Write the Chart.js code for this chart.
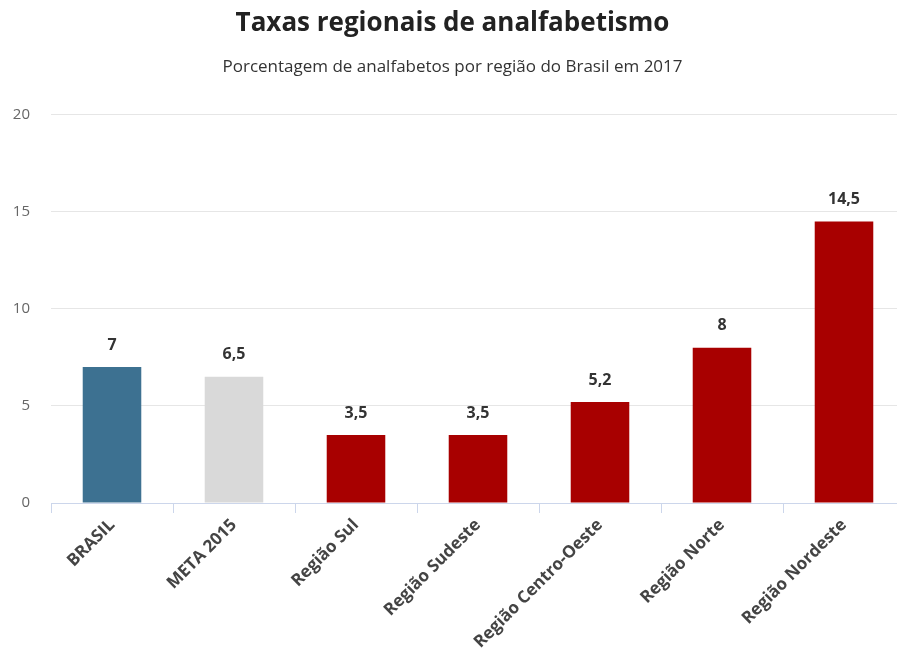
<!DOCTYPE html>
<html>
<head>
<meta charset="utf-8">
<script src="https://cdn.jsdelivr.net/npm/chart.js@4"></script>
<style>
  html, body { margin: 0; padding: 0; background: #fff; overflow: hidden; }
  #wrap { width: 905px; height: 651px; }
</style>
</head>
<body>
<div id="wrap"><canvas id="chart"></canvas></div>
<script>
// Data
const regions = ['BRASIL', 'META 2015', 'Região Sul', 'Região Sudeste', 'Região Centro-Oeste', 'Região Norte', 'Região Nordeste'];
const rates = [7, 6.5, 3.5, 3.5, 5.2, 8, 14.5];
const rateLabels = ['7', '6,5', '3,5', '3,5', '5,2', '8', '14,5'];
const barColors = ['#3d7191', '#d9d9d9', '#a80000', '#a80000', '#a80000', '#a80000', '#a80000'];
const yTicks = [0, 5, 10, 15, 20];

// Draw the value above each bar
const valueLabels = {
    id: 'valueLabels',
    afterDatasetsDraw(chart) {
        const ctx = chart.ctx;
        const meta = chart.getDatasetMeta(0);
        ctx.save();
        ctx.font = 'bold 16px "Open Sans"';
        ctx.fillStyle = '#333333';
        ctx.textAlign = 'center';
        ctx.textBaseline = 'middle';
        meta.data.forEach((bar, i) => {
            ctx.fillText(rateLabels[i], bar.x, bar.y - 22);
        });
        ctx.restore();
    }
};

const ctx = document.getElementById('chart');
new Chart(ctx, {
    type: 'bar',
    data: {
        labels: regions,
        datasets: [{
            data: rates,
            backgroundColor: barColors,
            categoryPercentage: 1,
            barPercentage: 0.48
        }]
    },
    options: {
        responsive: true,
        maintainAspectRatio: false,
        animation: false,
        layout: { padding: 0 },
        plugins: {
            legend: { display: false },
            tooltip: { enabled: false },
            title: {
                display: true,
                text: 'Taxas regionais de analfabetismo',
                color: '#222222',
                font: { family: 'Open Sans', size: 26, weight: 'bold' },
                padding: { top: 8, bottom: 0 }
            },
            subtitle: {
                display: true,
                text: 'Porcentagem de analfabetos por região do Brasil em 2017',
                color: '#333333',
                font: { family: 'Open Sans', size: 17 },
                padding: { top: 18, bottom: 37 }
            }
        },
        scales: {
            x: {
                offset: true,
                afterFit(scale) { scale.height = 148; },
                grid: {
                    offset: true,
                    drawOnChartArea: false,
                    tickLength: 10,
                    color: '#ccd6eb'
                },
                border: { color: '#ccd6eb' },
                ticks: {
                    minRotation: 45,
                    maxRotation: 45,
                    autoSkip: false,
                    padding: 2,
                    color: '#444444',
                    font: { family: 'Open Sans', size: 17, weight: 'bold' }
                }
            },
            y: {
                min: 0,
                max: 20,
                afterFit(scale) { scale.width = 51; },
                afterBuildTicks(scale) { scale.ticks = yTicks.map(v => ({ value: v })); },
                grid: { color: '#e6e6e6', drawTicks: false },
                border: { display: false },
                ticks: {
                    padding: 21,
                    color: '#666666',
                    font: { family: 'Open Sans', size: 15 }
                }
            }
        }
    },
    plugins: [valueLabels]
});
</script>
</body>
</html>
